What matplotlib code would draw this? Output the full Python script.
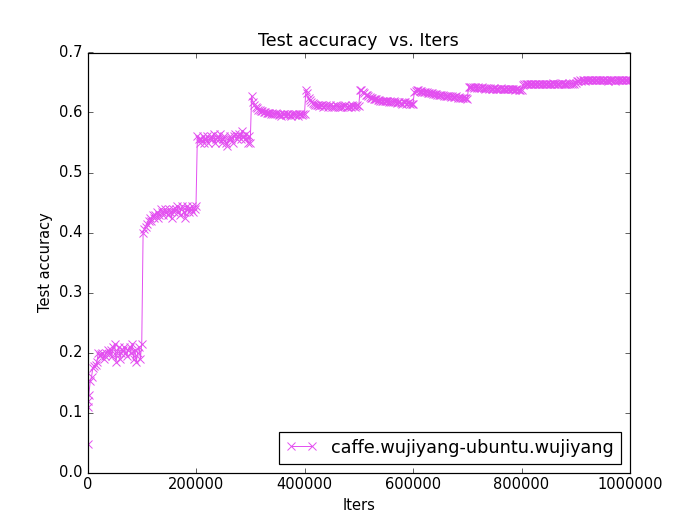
import numpy as np
import matplotlib
matplotlib.use('Agg')
import matplotlib.pyplot as plt

plt.style.use('classic')

#=====================================================
#    Test accuracy (test every 2500 iters)

head_iters = [0, 800, 1600]
head_acc = [0.048, 0.11, 0.12]

seg1 = [0.13, 0.152, 0.16, 0.175, 0.178, 0.18, 0.185, 0.20, 0.195, 0.198,
        0.20, 0.19, 0.195, 0.20, 0.205, 0.198, 0.205, 0.195, 0.21, 0.215,
        0.185, 0.20, 0.21, 0.19, 0.20, 0.205, 0.21, 0.20, 0.195, 0.205,
        0.21, 0.20, 0.215, 0.19, 0.205, 0.185, 0.20, 0.21, 0.19, 0.215]
seg2 = [0.40, 0.405, 0.41, 0.415, 0.42, 0.425, 0.42, 0.43, 0.425, 0.43,
        0.435, 0.425, 0.43, 0.44, 0.435, 0.43, 0.44, 0.435, 0.43, 0.44,
        0.435, 0.425, 0.44, 0.435, 0.44, 0.445, 0.435, 0.43, 0.44, 0.445,
        0.435, 0.425, 0.445, 0.44, 0.435, 0.44, 0.445, 0.435, 0.44, 0.445]
seg3 = [0.56, 0.555, 0.55, 0.555, 0.56, 0.55, 0.555, 0.56, 0.55, 0.555,
        0.56, 0.555, 0.565, 0.55, 0.555, 0.56, 0.555, 0.565, 0.55, 0.555,
        0.56, 0.55, 0.545, 0.555, 0.56, 0.555, 0.55, 0.56, 0.565, 0.555,
        0.56, 0.565, 0.555, 0.57, 0.56, 0.555, 0.565, 0.55, 0.56, 0.55]
seg4 = [0.628, 0.618, 0.612, 0.609, 0.607, 0.605, 0.604, 0.603, 0.602, 0.601,
        0.601, 0.600, 0.600, 0.599, 0.598, 0.600, 0.598, 0.597, 0.599, 0.597,
        0.596, 0.598, 0.595, 0.597, 0.598, 0.596, 0.597, 0.598, 0.596, 0.595,
        0.597, 0.598, 0.596, 0.597, 0.595, 0.598, 0.597, 0.596, 0.598, 0.597]
seg5 = [0.638, 0.632, 0.625, 0.621, 0.618, 0.616, 0.615, 0.613, 0.612, 0.613,
        0.611, 0.612, 0.612, 0.610, 0.611, 0.612, 0.610, 0.611, 0.612, 0.610,
        0.611, 0.610, 0.612, 0.611, 0.610, 0.609, 0.611, 0.610, 0.611, 0.612,
        0.610, 0.609, 0.611, 0.610, 0.612, 0.611, 0.610, 0.611, 0.612, 0.611]
seg6 = [0.638, 0.637, 0.635, 0.633, 0.630, 0.629, 0.627, 0.626, 0.625, 0.624,
        0.623, 0.623, 0.622, 0.621, 0.621, 0.620, 0.620, 0.619, 0.620, 0.619,
        0.620, 0.618, 0.619, 0.617, 0.618, 0.619, 0.617, 0.616, 0.617, 0.618,
        0.616, 0.615, 0.617, 0.618, 0.615, 0.616, 0.617, 0.614, 0.615, 0.614]
seg7 = [0.635, 0.636, 0.637, 0.637, 0.636, 0.636, 0.635, 0.635, 0.634, 0.634,
        0.633, 0.633, 0.632, 0.632, 0.631, 0.631, 0.631, 0.630, 0.630, 0.629,
        0.629, 0.629, 0.628, 0.628, 0.627, 0.628, 0.627, 0.626, 0.627, 0.626,
        0.626, 0.627, 0.625, 0.626, 0.625, 0.624, 0.625, 0.624, 0.625, 0.623]
seg8 = [0.642, 0.643, 0.642, 0.642, 0.641, 0.642, 0.641, 0.642, 0.641, 0.641,
        0.642, 0.641, 0.640, 0.641, 0.641, 0.640, 0.641, 0.640, 0.640, 0.641,
        0.640, 0.640, 0.639, 0.640, 0.641, 0.640, 0.639, 0.640, 0.640, 0.639,
        0.640, 0.639, 0.639, 0.640, 0.638, 0.639, 0.639, 0.638, 0.638, 0.637]
seg9 = [0.646, 0.647, 0.648, 0.647, 0.648, 0.647, 0.648, 0.648, 0.647, 0.648,
        0.647, 0.648, 0.647, 0.648, 0.648, 0.647, 0.648, 0.647, 0.648, 0.648,
        0.647, 0.648, 0.649, 0.648, 0.647, 0.648, 0.648, 0.647, 0.648, 0.649,
        0.648, 0.648, 0.647, 0.648, 0.649, 0.648, 0.648, 0.649, 0.648, 0.649]
seg10 = [0.653, 0.653, 0.654, 0.653, 0.654, 0.654, 0.653, 0.654, 0.655, 0.654,
         0.654, 0.655, 0.654, 0.654, 0.655, 0.654, 0.655, 0.654, 0.654, 0.655,
         0.654, 0.655, 0.654, 0.653, 0.654, 0.655, 0.654, 0.654, 0.653, 0.654,
         0.655, 0.654, 0.654, 0.655, 0.654, 0.654, 0.655, 0.654, 0.654, 0.655]

acc = head_acc + seg1 + seg2 + seg3 + seg4 + seg5 + seg6 + seg7 + seg8 + seg9 + seg10
iters = head_iters + list(range(2500, 1000001, 2500))

label = 'caffe.wujiyang-ubuntu.wujiyang'

#=====================================================

fig = plt.figure(figsize=(8, 6), dpi=87.5)
plt.plot(iters, acc, color='#e34ef0', marker='x', markersize=7, linewidth=0.8,
         markeredgewidth=0.8, label=label)
plt.title('Test accuracy  vs. Iters')
plt.xlabel('Iters')
plt.ylabel('Test accuracy')
plt.xlim(0, 1000000)
plt.ylim(0, 0.7)
plt.ticklabel_format(axis='x', style='plain', useOffset=False)
plt.legend(loc='lower right', fontsize=14.5, numpoints=2, handlelength=1.8)
plt.savefig('out.png', dpi=87.5)
